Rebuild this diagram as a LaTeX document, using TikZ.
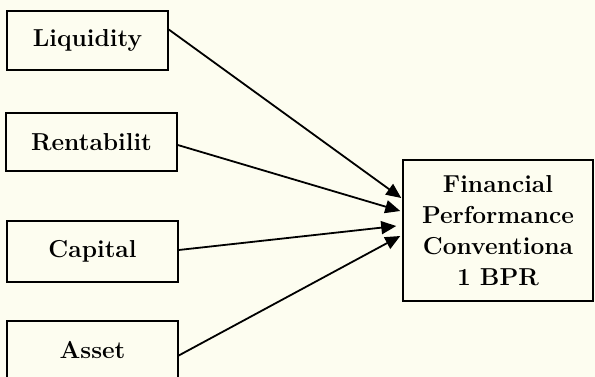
\documentclass[tikz,border=0pt]{standalone}
\usetikzlibrary{arrows.meta}
\definecolor{cream}{RGB}{253,253,240}

\begin{document}
\begin{tikzpicture}
[x=1pt,y=-1pt,%
  every node/.style={shape=rectangle,draw,line width=1.5pt,inner sep=0pt,%
    font=\fontsize{24.5}{31}\selectfont\bfseries,align=center},%
  link/.style={line width=1.8pt,-{Triangle[length=15pt,width=13pt]}}]
\fill[cream] (0,0) rectangle (595,377);
\useasboundingbox (0,0) rectangle (595,377);
\node[minimum width=161pt,minimum height=59pt] (liq) at (87.5,40.5) {Liquidity};
\node[minimum width=171pt,minimum height=58pt] (rent) at (91.5,142) {Rentabilit};
\node[minimum width=171pt,minimum height=61pt] (cap) at (92.5,251.5) {Capital};
\node[minimum width=171pt,minimum height=57pt] (asset) at (92.5,349.5) {Asset};
\node[minimum width=190pt,minimum height=141pt] (fin) at (498,230.5)
  {Financial\\Performance\\Conventiona\\1 BPR};
\draw[link] ([yshift=11pt]liq.east) -- ([xshift=-1pt,yshift=32.5pt]fin.west);
\draw[link] ([yshift=-3pt]rent.east) -- ([xshift=-2pt,yshift=19.5pt]fin.west);
\draw[link] ([yshift=1.5pt]cap.east) -- ([xshift=-6pt,yshift=4.5pt]fin.west);
\draw[link] ([yshift=-6pt]asset.east) -- ([xshift=-2pt,yshift=-5.5pt]fin.west);
\end{tikzpicture}
\end{document}
